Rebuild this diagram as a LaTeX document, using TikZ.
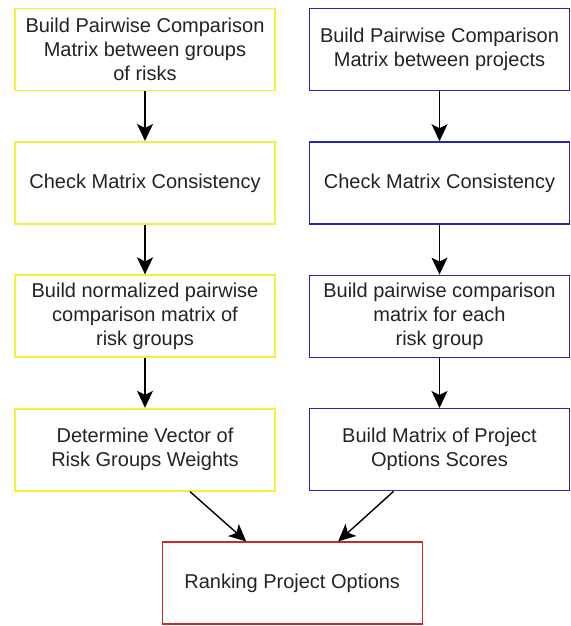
\documentclass[tikz,border=0pt]{standalone}
\usepackage{fontspec}
\setmainfont{Liberation Sans}
\usetikzlibrary{positioning,calc,arrows.meta}
\definecolor{riskyellow}{RGB}{245,238,60}
\definecolor{projblue}{RGB}{40,40,170}
\definecolor{rankred}{RGB}{200,45,45}
\definecolor{textgray}{RGB}{35,35,35}

\begin{document}
\begin{tikzpicture}[on grid,node distance=66.7pt and 147.25pt,
	every node/.style={align=center,text=textgray,minimum width=130pt,minimum height=41pt,font=\fontsize{10pt}{12pt}\selectfont},
	riskbox/.style={draw=riskyellow,line width=0.9pt},
	projbox/.style={draw=projblue,line width=0.7pt},
	rankbox/.style={draw=rankred,line width=0.7pt},
	flow/.style={-{Stealth[length=8.5pt,width=8pt,inset=2pt]},line width=0.7pt,black}]
\useasboundingbox (0,0) rectangle (285pt,-313pt);

% risk groups
\node[riskbox] (L1) at (72.5pt,-24.75pt) {Build Pairwise Comparison\\Matrix between groups\\of risks};
\node[riskbox,below=of L1] (L2) {Check Matrix Consistency};
\node[riskbox,below=of L2] (L3) {Build normalized pairwise\\comparison matrix of\\risk groups};
\node[riskbox,below=of L3] (L4) {Determine Vector of\\Risk Groups Weights};

% projects
\node[projbox,right=of L1] (R1) {Build Pairwise Comparison\\Matrix between projects};
\node[projbox,below=of R1] (R2) {Check Matrix Consistency};
\node[projbox,below=of R2] (R3) {Build pairwise comparison\\matrix for each\\risk group};
\node[projbox,below=of R3] (R4) {Build Matrix of Project\\Options Scores};

\node[rankbox] (rank) at ($(L4)+(73.6pt,-66.7pt)$) {Ranking Project Options};

\draw[flow] (L1) -- (L2);
\draw[flow] (L2) -- (L3);
\draw[flow] (L3) -- (L4);
\draw[flow] (R1) -- (R2);
\draw[flow] (R2) -- (R3);
\draw[flow] (R3) -- (R4);
\draw[flow] ([xshift=22.5pt]L4.south) -- ([xshift=-23pt]rank.north);
\draw[flow] ([xshift=-23pt]R4.south) -- ([xshift=23pt]rank.north);
\end{tikzpicture}
\end{document}
